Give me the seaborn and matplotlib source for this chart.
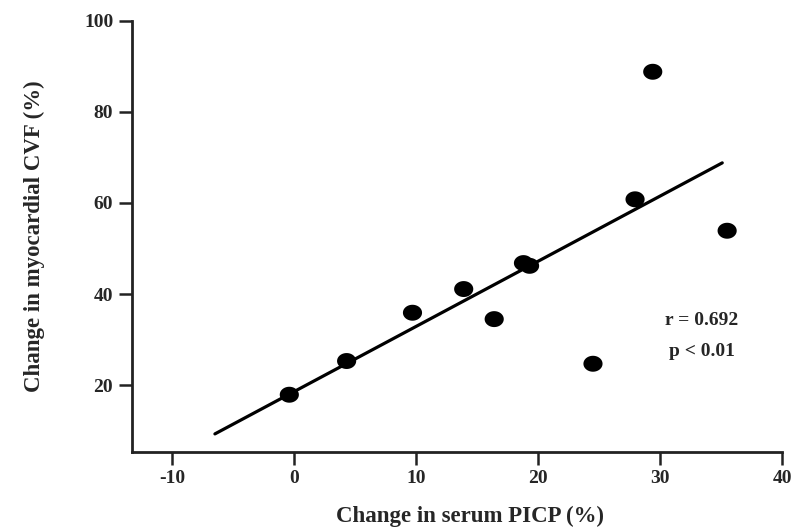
import matplotlib
matplotlib.use("Agg")
import matplotlib.pyplot as plt
from matplotlib.path import Path
import seaborn as sns
import pandas as pd
import numpy as np

# Percentage change in serum PICP vs change in myocardial collagen volume fraction
picp_change = [-0.4, 4.3, 9.7, 13.9, 16.4, 18.8, 19.3, 24.5, 27.95, 29.4, 35.5]
cvf_change = [17.9, 25.3, 35.9, 41.1, 34.5, 46.8, 46.2, 24.7, 60.8, 88.8, 53.9]

# Regression line end points
fit_x = [-6.5, 35.1]
fit_y = [9.3, 68.8]

x_ticks = [-10, 0, 10, 20, 30, 40]
y_ticks = [20, 40, 60, 80, 100]
stats_lines = ["r = 0.692", "p < 0.01"]

sns.set_theme(style="ticks")
plt.rcParams["font.family"] = ["Liberation Serif", "DejaVu Serif"]
plt.rcParams["font.weight"] = "bold"

df = pd.DataFrame({"x": picp_change, "y": cvf_change})
fit_df = pd.DataFrame({"x": fit_x, "y": fit_y})

# slightly wide oval dot marker
theta = np.linspace(0, 2 * np.pi, 60)
oval = Path(np.column_stack([1.2 * np.cos(theta), np.sin(theta)]), closed=True)

fig = plt.figure(figsize=(7.97, 5.32), dpi=100)
ax = fig.add_axes([0.1656, 0.151, 0.8156, 0.810])

sns.lineplot(data=fit_df, x="x", y="y", color="black", linewidth=2.3, ax=ax)
sns.scatterplot(data=df, x="x", y="y", color="black", s=190, marker=oval,
                edgecolor="none", ax=ax, zorder=3)

ax.set_xlim(-13.3, 40)
ax.set_ylim(5.4, 100)
ax.set_xticks(x_ticks)
ax.set_yticks(y_ticks)
ax.set_xticklabels([str(t) for t in x_ticks])
ax.set_yticklabels([str(t) for t in y_ticks])

for side in ["top", "right"]:
    ax.spines[side].set_visible(False)
for side in ["left", "bottom"]:
    ax.spines[side].set_linewidth(2.0)
    ax.spines[side].set_color("#222222")

ax.tick_params(axis="both", length=9.5, width=1.8, color="#222222",
               labelsize=14, pad=4)
for lab in ax.get_xticklabels() + ax.get_yticklabels():
    lab.set_fontweight("bold")

ax.set_xlabel("Change in serum PICP (%)", fontsize=16.5, fontweight="bold", labelpad=13)
ax.xaxis.set_label_coords(0.52, -0.125)
ax.set_ylabel("Change in myocardial CVF (%)", fontsize=16.5, fontweight="bold", labelpad=28)

ax.text(33.4, 34.3, stats_lines[0], fontsize=14, fontweight="bold", va="center", ha="center")
ax.text(33.4, 27.3, stats_lines[1], fontsize=14, fontweight="bold", va="center", ha="center")

fig.savefig("out.png", dpi=100)
